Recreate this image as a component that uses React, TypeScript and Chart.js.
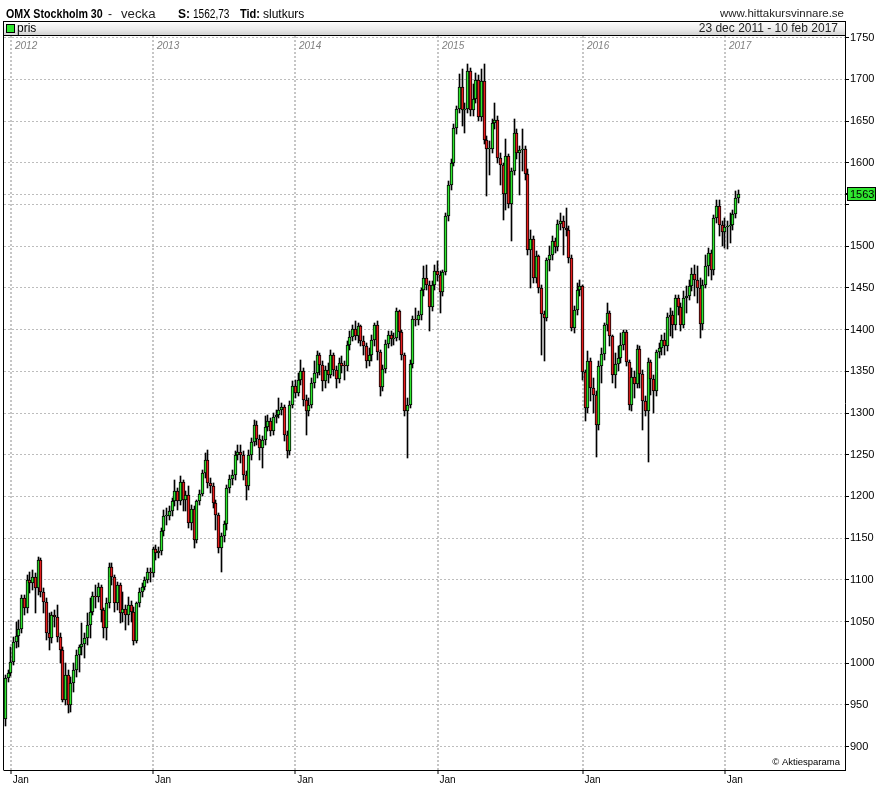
import React, { useEffect, useRef } from 'react';
import { Chart, registerables } from 'chart.js';

Chart.register(...registerables);

// ---- data (weekly OHLC, OMX Stockholm 30, 23 dec 2011 - 10 feb 2017) ----
const firstOpen = 933;

const closes = [
  982, 988, 1002, 1026, 1033, 1041, 1078, 1066, 1100, 1096, 1104, 1090, 1124, 1086, 1074, 1036, 1030, 1058, 1056, 1032,
  1016, 956, 986, 950, 976, 992, 1010, 1019, 1023, 1030, 1046, 1062, 1081, 1080, 1091, 1064, 1042, 1072, 1116, 1104,
  1072, 1094, 1060, 1065, 1058, 1070, 1062, 1027, 1072, 1086, 1092, 1100, 1109, 1108, 1137, 1132, 1135, 1159, 1176, 1177,
  1183, 1194, 1207, 1194, 1217, 1196, 1202, 1168, 1185, 1148, 1194, 1203, 1228, 1244, 1216, 1212, 1192, 1178, 1138, 1152,
  1167, 1210, 1221, 1226, 1250, 1253, 1250, 1226, 1212, 1250, 1265, 1286, 1269, 1258, 1268, 1283, 1290, 1278, 1295, 1298,
  1304, 1307, 1274, 1254, 1310, 1333, 1324, 1340, 1350, 1316, 1302, 1310, 1336, 1348, 1369, 1358, 1338, 1352, 1346, 1369,
  1352, 1341, 1360, 1357, 1356, 1382, 1391, 1401, 1392, 1404, 1386, 1380, 1362, 1369, 1387, 1405, 1373, 1331, 1353, 1383,
  1393, 1389, 1390, 1422, 1397, 1369, 1302, 1310, 1359, 1413, 1412, 1417, 1447, 1462, 1453, 1427, 1453, 1470, 1465, 1445,
  1469, 1536, 1574, 1600, 1642, 1665, 1691, 1663, 1665, 1710, 1663, 1676, 1699, 1655, 1698, 1627, 1617, 1617, 1648, 1651,
  1606, 1597, 1563, 1608, 1551, 1590, 1636, 1612, 1615, 1616, 1587, 1496, 1509, 1462, 1488, 1450, 1419, 1414, 1483, 1490,
  1506, 1499, 1527, 1530, 1522, 1520, 1486, 1402, 1423, 1447, 1452, 1349, 1306, 1362, 1330, 1322, 1286, 1357, 1371, 1405,
  1420, 1392, 1346, 1359, 1366, 1382, 1397, 1361, 1310, 1343, 1335, 1377, 1347, 1315, 1302, 1361, 1341, 1327, 1373, 1378,
  1388, 1380, 1415, 1418, 1405, 1438, 1427, 1406, 1438, 1440, 1452, 1467, 1459, 1450, 1407, 1454, 1476, 1492, 1471, 1534,
  1548, 1525, 1517, 1523, 1524, 1526, 1539, 1558, 1562.73,
];

const highs = [
  986, 992, 1020, 1032, 1050, 1052, 1082, 1082, 1106, 1110, 1112, 1108, 1128, 1126, 1090, 1078, 1060, 1062, 1064, 1070,
  1036, 1020, 1000, 992, 984, 1000, 1016, 1022, 1048, 1036, 1060, 1078, 1086, 1094, 1096, 1094, 1066, 1078, 1120, 1120,
  1106, 1098, 1096, 1086, 1070, 1080, 1075, 1068, 1074, 1090, 1096, 1104, 1114, 1114, 1140, 1142, 1140, 1162, 1184, 1186,
  1188, 1198, 1220, 1210, 1224, 1220, 1206, 1212, 1190, 1188, 1196, 1208, 1232, 1252, 1256, 1222, 1216, 1196, 1180, 1156,
  1170, 1214, 1226, 1232, 1254, 1262, 1262, 1254, 1230, 1256, 1270, 1292, 1290, 1274, 1272, 1296, 1298, 1294, 1300, 1304,
  1318, 1312, 1310, 1278, 1314, 1338, 1340, 1348, 1364, 1354, 1322, 1318, 1342, 1362, 1374, 1372, 1362, 1356, 1360, 1376,
  1372, 1356, 1366, 1368, 1362, 1386, 1398, 1406, 1410, 1408, 1406, 1392, 1384, 1378, 1394, 1408, 1410, 1376, 1358, 1388,
  1398, 1398, 1396, 1426, 1424, 1400, 1372, 1318, 1364, 1416, 1426, 1422, 1450, 1476, 1478, 1458, 1458, 1478, 1482, 1470,
  1472, 1540, 1578, 1604, 1646, 1668, 1706, 1712, 1672, 1718, 1714, 1694, 1708, 1705, 1712, 1718, 1632, 1626, 1652, 1672,
  1656, 1612, 1600, 1628, 1610, 1594, 1652, 1640, 1620, 1640, 1620, 1592, 1520, 1512, 1494, 1490, 1454, 1422, 1486, 1500,
  1512, 1510, 1532, 1540, 1536, 1546, 1524, 1490, 1428, 1456, 1460, 1454, 1352, 1374, 1366, 1342, 1326, 1362, 1378, 1408,
  1432, 1422, 1394, 1372, 1380, 1396, 1400, 1400, 1364, 1354, 1350, 1382, 1380, 1352, 1320, 1366, 1364, 1346, 1376, 1384,
  1394, 1396, 1420, 1426, 1422, 1442, 1442, 1432, 1446, 1452, 1460, 1474, 1478, 1476, 1462, 1460, 1490, 1498, 1496, 1538,
  1556, 1556, 1530, 1534, 1530, 1540, 1544, 1566, 1568,
];

const lows = [
  925, 978, 985, 998, 1018, 1020, 1036, 1058, 1060, 1084, 1088, 1060, 1082, 1080, 1060, 1028, 1016, 1024, 1044, 1026,
  1000, 954, 950, 940, 942, 966, 984, 990, 1010, 1006, 1022, 1030, 1058, 1066, 1074, 1050, 1030, 1028, 1066, 1094,
  1062, 1064, 1048, 1050, 1040, 1046, 1050, 1022, 1024, 1068, 1080, 1088, 1096, 1098, 1104, 1124, 1126, 1130, 1152, 1166,
  1172, 1176, 1188, 1184, 1190, 1182, 1182, 1162, 1160, 1138, 1144, 1190, 1200, 1222, 1210, 1204, 1186, 1160, 1132, 1110,
  1146, 1160, 1204, 1214, 1220, 1244, 1240, 1220, 1196, 1208, 1244, 1260, 1262, 1244, 1234, 1262, 1278, 1272, 1274, 1288,
  1294, 1298, 1266, 1246, 1250, 1306, 1318, 1320, 1334, 1308, 1274, 1296, 1306, 1330, 1342, 1346, 1326, 1330, 1336, 1342,
  1344, 1330, 1336, 1348, 1340, 1350, 1376, 1386, 1388, 1384, 1380, 1370, 1354, 1356, 1362, 1380, 1364, 1321, 1326, 1348,
  1378, 1380, 1382, 1386, 1388, 1364, 1296, 1246, 1306, 1354, 1404, 1406, 1412, 1440, 1448, 1398, 1422, 1448, 1458, 1420,
  1440, 1466, 1530, 1568, 1596, 1634, 1660, 1644, 1636, 1660, 1656, 1656, 1672, 1650, 1650, 1622, 1560, 1586, 1612, 1640,
  1600, 1574, 1532, 1544, 1546, 1506, 1586, 1604, 1562, 1590, 1580, 1490, 1450, 1456, 1456, 1444, 1370, 1362, 1410, 1470,
  1484, 1492, 1494, 1520, 1490, 1512, 1480, 1398, 1396, 1418, 1440, 1340, 1290, 1300, 1314, 1300, 1247, 1280, 1336, 1364,
  1398, 1380, 1336, 1330, 1350, 1360, 1376, 1356, 1304, 1302, 1318, 1330, 1330, 1280, 1296, 1241, 1322, 1300, 1320, 1366,
  1370, 1370, 1374, 1392, 1390, 1400, 1418, 1398, 1402, 1420, 1436, 1446, 1440, 1432, 1390, 1400, 1450, 1464, 1460, 1466,
  1528, 1512, 1500, 1498, 1497, 1504, 1520, 1534, 1552,
];

const janWeeks = [2, 54, 106, 158, 211, 263];
const yearLabels = ['2012', '2013', '2014', '2015', '2016', '2017'];
const janLabel = 'Jan';
const yTicks = [900, 950, 1000, 1050, 1100, 1150, 1200, 1250, 1300, 1350, 1400, 1450, 1500, 1550, 1600, 1650, 1700, 1750];
const lastClose = 1562.73;
const lastLabel = '1563';

// ---- styles ----
const FONT = '"Liberation Sans", Arial, Helvetica, sans-serif';
const GREEN = '#2fe62f';
const RED = '#e61e1e';
const GRID = '#bdbdbd';

Chart.defaults.font.family = FONT;

const decor = {
  id: 'decor',
  afterDatasetsUpdate(chart: any) {
    chart.data.datasets.forEach((_: any, di: number) => {
      const meta = chart.getDatasetMeta(di);
      meta.data.forEach((el: any) => {
        el.x = Math.round(el.x - 0.5) + 0.5;
        const y = Math.round(el.y);
        let b = Math.round(el.base);
        if (Math.abs(y - b) < 1) b = y + 1;
        el.y = y;
        el.base = b;
      });
    });
  },
  beforeDatasetsDraw(chart: any) {
    const { ctx, chartArea: a, scales } = chart;
    const x = scales.x;
    const y = scales.y;
    ctx.save();
    const ly = Math.round(y.getPixelForValue(lastClose)) + 0.5;
    ctx.strokeStyle = GRID;
    ctx.lineWidth = 1;
    ctx.setLineDash([2, 2]);
    ctx.beginPath();
    ctx.moveTo(a.left, ly);
    ctx.lineTo(a.right, ly);
    ctx.stroke();
    ctx.setLineDash([]);
    ctx.font = `italic 10px ${FONT}`;
    ctx.fillStyle = '#808080';
    ctx.textBaseline = 'middle';
    ctx.textAlign = 'left';
    janWeeks.forEach((w, k) => {
      ctx.fillText(yearLabels[k], Math.round(x.getPixelForValue(w)) + 4, a.top + 10);
    });
    ctx.restore();
  },
  afterDraw(chart: any) {
    const { ctx, chartArea: a, scales } = chart;
    const y = scales.y;
    ctx.save();
    ctx.strokeStyle = '#000';
    ctx.lineWidth = 1;
    ctx.beginPath();
    ctx.moveTo(a.left - 0.5, a.bottom + 0.5);
    ctx.lineTo(a.left - 0.5, a.top - 0.5);
    ctx.lineTo(a.right + 0.5, a.top - 0.5);
    ctx.stroke();
    const ly = Math.round(y.getPixelForValue(lastClose));
    ctx.fillStyle = '#000';
    ctx.fillRect(a.right, ly - 1, 3, 2);
    const bx = a.right + 2;
    const by = ly - 7;
    ctx.fillStyle = GREEN;
    ctx.fillRect(bx, by, 29, 14);
    ctx.strokeStyle = '#000';
    ctx.strokeRect(bx + 0.5, by + 0.5, 28, 13);
    ctx.fillStyle = '#000';
    ctx.font = `11px ${FONT}`;
    ctx.textBaseline = 'middle';
    ctx.textAlign = 'left';
    ctx.fillText(lastLabel, bx + 3, ly + 0.5);
    ctx.font = `9.5px ${FONT}`;
    ctx.textAlign = 'right';
    ctx.textBaseline = 'alphabetic';
    ctx.fillText('\u00A9 Aktiesparama', a.right - 5, a.bottom - 5);
    ctx.restore();
  },
};

export default function App() {
  const ref = useRef<HTMLCanvasElement>(null);

  useEffect(() => {
    const canvas = ref.current;
    if (!canvas) return;
    const opens = closes.map((c, i) => (i === 0 ? firstOpen : closes[i - 1]));
    const up = closes.map((c, i) => c >= opens[i]);

    const chart = new Chart(canvas, {
      type: 'bar',
      data: {
        datasets: [
          {
            label: 'wick',
            data: closes.map((c, i) => ({
              x: i,
              y: [Math.min(lows[i], opens[i], c), Math.max(highs[i], opens[i], c)],
            })) as any,
            backgroundColor: '#000',
            borderWidth: 0,
            barThickness: 1,
            grouped: false,
            order: 2,
          } as any,
          {
            label: 'pris',
            data: closes.map((c, i) => ({ x: i, y: [opens[i], c] })) as any,
            backgroundColor: up.map((u) => (u ? GREEN : RED)),
            borderColor: '#000',
            borderWidth: 1,
            borderSkipped: false,
            barThickness: 3,
            minBarLength: 1,
            grouped: false,
            order: 1,
          } as any,
        ],
      },
      options: {
        responsive: false,
        animation: false,
        events: [],
        layout: { padding: { left: 4, top: 36, right: 0, bottom: 0 } },
        plugins: {
          legend: { display: false },
          tooltip: { enabled: false },
          title: { display: false },
        },
        scales: {
          x: {
            type: 'linear',
            min: -0.475,
            max: 306.95,
            offset: false,
            afterBuildTicks: (s: any) => {
              s.ticks = janWeeks.map((v) => ({ value: v }));
            },
            afterFit: (s: any) => {
              s.height = 23;
            },
            ticks: {
              callback: () => janLabel,
              align: 'start',
              labelOffset: 2,
              padding: 0,
              autoSkip: false,
              maxRotation: 0,
              color: '#000',
              font: { size: 10, family: FONT },
            },
            grid: {
              offset: false,
              color: '#c6c6c6',
              lineWidth: 2,
              tickLength: 4,
              tickColor: '#000',
              tickWidth: 1,
              tickBorderDash: [],
            },
            border: { display: true, color: '#000', width: 1, dash: [2, 2] },
          } as any,
          y: {
            type: 'linear',
            position: 'right',
            min: 872.05,
            max: 1752.05,
            afterBuildTicks: (s: any) => {
              s.ticks = yTicks.map((v) => ({ value: v }));
            },
            afterFit: (s: any) => {
              s.width = 43;
            },
            ticks: {
              callback: (v: any) => (v === 1550 ? '' : String(v)),
              padding: 1,
              color: '#000',
              font: { size: 11, family: FONT },
            },
            grid: {
              color: GRID,
              lineWidth: 1,
              tickLength: 4,
              tickColor: '#000',
              tickWidth: 1,
              tickBorderDash: [],
            },
            border: { display: true, color: '#000', width: 1, dash: [2, 2] },
          } as any,
        },
      },
      plugins: [decor as any],
    });
    return () => chart.destroy();
  }, []);

  // place a text segment so that its baseline sits at y = base
  const seg = (
    left: number,
    size: number,
    bold: boolean,
    base: number,
    color = '#000',
    sx = 1,
  ): React.CSSProperties => ({
    position: 'absolute',
    left,
    top: base - 0.8305 * size,
    fontFamily: FONT,
    fontSize: size,
    lineHeight: 1,
    fontWeight: bold ? 'bold' : 'normal',
    whiteSpace: 'pre',
    color,
    transform: sx !== 1 ? `scaleX(${sx})` : undefined,
    transformOrigin: 'left center',
  });

  const TB = 17.5;

  return (
    <div
      style={{
        position: 'absolute',
        left: 0,
        top: 0,
        width: 888,
        height: 793,
        background: '#fff',
        overflow: 'hidden',
      }}
    >
      <canvas
        ref={ref}
        width={888}
        height={793}
        style={{ position: 'absolute', left: 0, top: 0, width: 888, height: 793 }}
      />
      <div style={seg(6, 12, true, TB, '#000', 0.89)}>OMX Stockholm 30</div>
      <div style={seg(108, 12, false, TB, '#222')}>-</div>
      <div style={seg(121, 12, false, TB, '#222', 1.1)}>vecka</div>
      <div style={seg(178, 12, true, TB)}>S:</div>
      <div style={seg(193, 12, false, TB, '#000', 0.84)}>1562,73</div>
      <div style={seg(240, 12, true, TB, '#000', 0.92)}>Tid:</div>
      <div style={seg(263, 12, false, TB)}>slutkurs</div>
      <div style={{ ...seg(0, 11.5, false, TB, '#222'), left: undefined, right: 44 }}>www.hittakursvinnare.se</div>
      <div
        style={{
          position: 'absolute',
          left: 3,
          top: 21,
          width: 843,
          height: 15,
          boxSizing: 'border-box',
          border: '1px solid #000',
          background: 'linear-gradient(to bottom, #fdfdfd 0%, #ececec 55%, #d2d2d2 100%)',
        }}
      />
      <div
        style={{
          position: 'absolute',
          left: 6,
          top: 24,
          width: 9,
          height: 9,
          boxSizing: 'border-box',
          border: '1px solid #000',
          background: GREEN,
        }}
      />
      <div style={seg(17, 12, false, 32)}>pris</div>
      <div style={{ ...seg(0, 12, false, 32, '#222'), left: undefined, right: 50 }}>23 dec 2011 - 10 feb 2017</div>
    </div>
  );
}
